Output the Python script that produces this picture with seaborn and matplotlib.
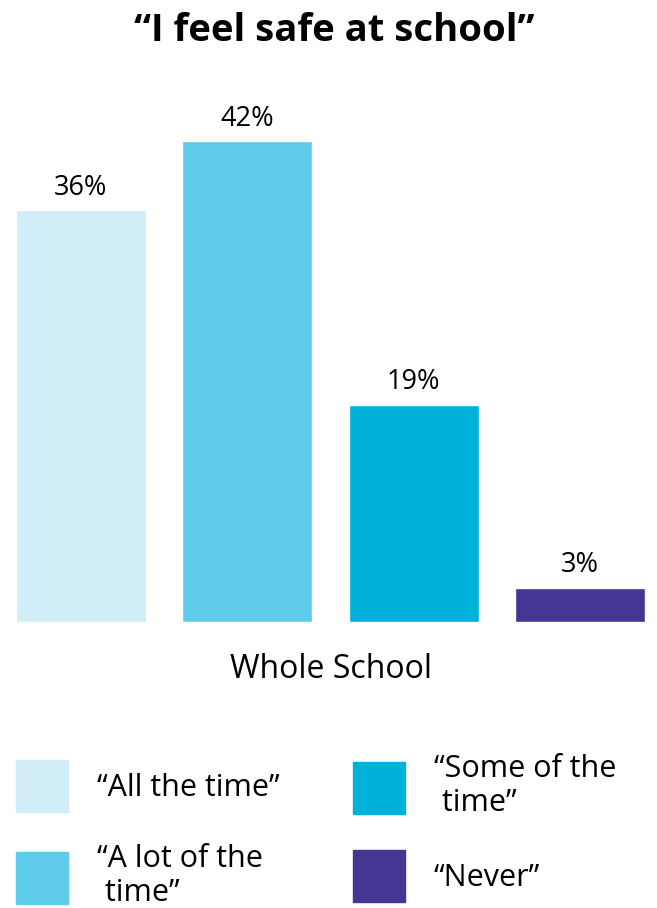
import matplotlib
matplotlib.use("Agg")
import matplotlib.pyplot as plt
import seaborn as sns
import pandas as pd
from matplotlib.patches import Patch

# dados do gráfico
categorias = ["“All the time”", "“A lot of the time”", "“Some of the time”", "“Never”"]
valores = [36, 42, 19, 3]
rotulos_legenda = ["“All the time”", "“A lot of the\n time”", "“Some of the\n time”", "“Never”"]
cores = ["#D0EDF8", "#5ECBE9", "#00B2DA", "#463493"]

df = pd.DataFrame({"resposta": categorias, "pct": valores})

sns.set_style("white")
plt.rcParams["font.family"] = ["Open Sans", "DejaVu Sans"]
plt.rcParams["text.color"] = "black"
plt.rcParams["axes.labelcolor"] = "black"

fig = plt.figure(figsize=(6.57, 9.08), dpi=100)
ax = fig.add_axes([16 / 657, 1 - 622 / 908, 629 / 657, 515 / 908])

sns.barplot(data=df, x="resposta", y="pct", hue="resposta", palette=cores,
            width=0.78, legend=False, ax=ax, saturation=1)
ax.set_ylim(0, 45)
ax.set_xlim(-0.39, 3.39)

for c in ax.containers:
    ax.bar_label(c, fmt="%d%%", padding=6, fontsize=19.5, color="black")

ax.set_yticks([])
ax.set_xticks([])
ax.set_ylabel("")
ax.set_xlabel("Whole School", fontsize=23, labelpad=22)
sns.despine(ax=ax, left=True, bottom=True)

fig.suptitle("“I feel safe at school”", fontsize=27.5, fontweight="bold",
             x=334 / 657, y=1 - 12 / 908, va="top", color="black")

# legenda: uma por item para controlar posição
fs = 22
fs_px = fs * 100 / 72
hh = (52 / fs_px - 0.245) / 0.65
posicoes = [(16, 786), (16, 876), (353, 786), (353, 876)]
for rot, cor, (px_, py_) in zip(rotulos_legenda, cores, posicoes):
    leg = fig.legend(handles=[Patch(color=cor)], labels=[rot],
                     loc="center left", bbox_to_anchor=(px_ / 657, 1 - py_ / 908),
                     frameon=False, fontsize=fs, handlelength=52 / fs_px,
                     handleheight=hh, handletextpad=0.95,
                     borderpad=0, borderaxespad=0)
    for t in leg.texts:
        t.set_linespacing(1.15)
        t.set_color("black")

fig.savefig("out.png", dpi=100)
